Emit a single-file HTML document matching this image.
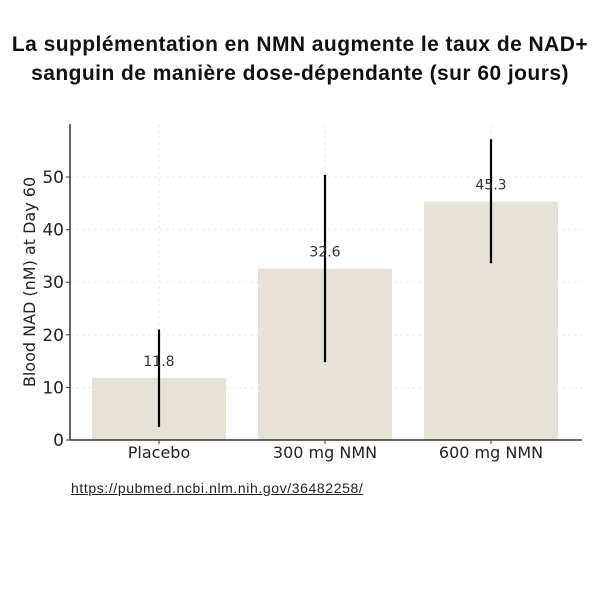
<!DOCTYPE html>
<html><head><meta charset="utf-8"><style>
body{margin:0;background:#fff;width:600px;height:600px;overflow:hidden;font-family:"DejaVu Sans","Liberation Sans",sans-serif}
#title{position:absolute;top:30px;left:-10px;width:620px;text-align:center;font-family:"Liberation Sans",sans-serif;font-weight:bold;font-size:21px;letter-spacing:0.45px;line-height:29px;color:#111;white-space:nowrap}
#src{position:absolute;left:71px;top:480px;font-family:"Liberation Sans",sans-serif;font-size:14px;letter-spacing:0.6px;color:#222;text-decoration:underline}
svg{position:absolute;left:0;top:0}
</style></head><body>
<div id="title">La supplémentation en NMN augmente le taux de NAD+<br>sanguin de manière dose-dépendante (sur 60 jours)</div>
<a id="src">https://pubmed.ncbi.nlm.nih.gov/36482258/</a>
<svg id="chart" width="600" height="600"></svg>
<script>
const categories=["Placebo","300 mg NMN","600 mg NMN"];
const values=[11.8,32.6,45.3];
const errLow=[2.5,14.8,33.6];
const errHigh=[21,50.4,57.2];
const yTicks=[0,10,20,30,40,50];
const NS="http://www.w3.org/2000/svg";
const svg=document.getElementById("chart");
const x0=70,x1=582,yBase=440,yTop=124;
const y=v=>yBase-v*(yBase-177)/50;
const xc=i=>x0+89+i*166, bw=134;
function mk(t,a){const e=document.createElementNS(NS,t);for(const k in a)e.setAttribute(k,a[k]);svg.appendChild(e);return e;}
yTicks.forEach(t=>{
  const g=mk("line",{x1:x0,x2:x1,y1:y(t),y2:y(t),stroke:"#e4e4e4","stroke-dasharray":"3,3","stroke-width":0.8});
  
  
  const tk=mk("line",{x1:x0-4,x2:x0,y1:y(t),y2:y(t),stroke:"#333"});
  
  
  const l=mk("text",{x:x0-6,y:y(t)+6,"text-anchor":"end","font-size":17,fill:"#222"});l.textContent=t;
  
  
});
categories.forEach((c,i)=>{
  const cx=xc(i);
  const g=mk("line",{x1:cx,x2:cx,y1:yTop,y2:yBase,stroke:"#e0e0e0","stroke-dasharray":"3,3","stroke-width":0.8});
  
  
  const b=mk("rect",{x:cx-bw/2,y:y(values[i]),width:bw,height:yBase-y(values[i]),fill:"#e6e2d8"});
  
  
  const e=mk("line",{x1:cx,x2:cx,y1:y(errLow[i]),y2:y(errHigh[i]),stroke:"#000","stroke-width":2.2});
  
  
  const v=mk("text",{x:cx,y:y(values[i])-12,"text-anchor":"middle","font-size":14,fill:"#333"});v.textContent=values[i];
  
  
  const tk=mk("line",{x1:cx,x2:cx,y1:yBase,y2:yBase+4,stroke:"#333"});
  
  
  const l=mk("text",{x:cx,y:yBase+18,"text-anchor":"middle","font-size":16,fill:"#222"});l.textContent=c;
  
  
});
const ax=mk("path",{d:`M${x0},${yTop}V${yBase}H${x1}`,fill:"none",stroke:"#333","stroke-width":1.5});


const yt=mk("text",{x:0,y:0,transform:"translate(35,282) rotate(-90)","text-anchor":"middle","font-size":16,fill:"#222"});
yt.textContent="Blood NAD (nM) at Day 60";


</script>
</body></html>
